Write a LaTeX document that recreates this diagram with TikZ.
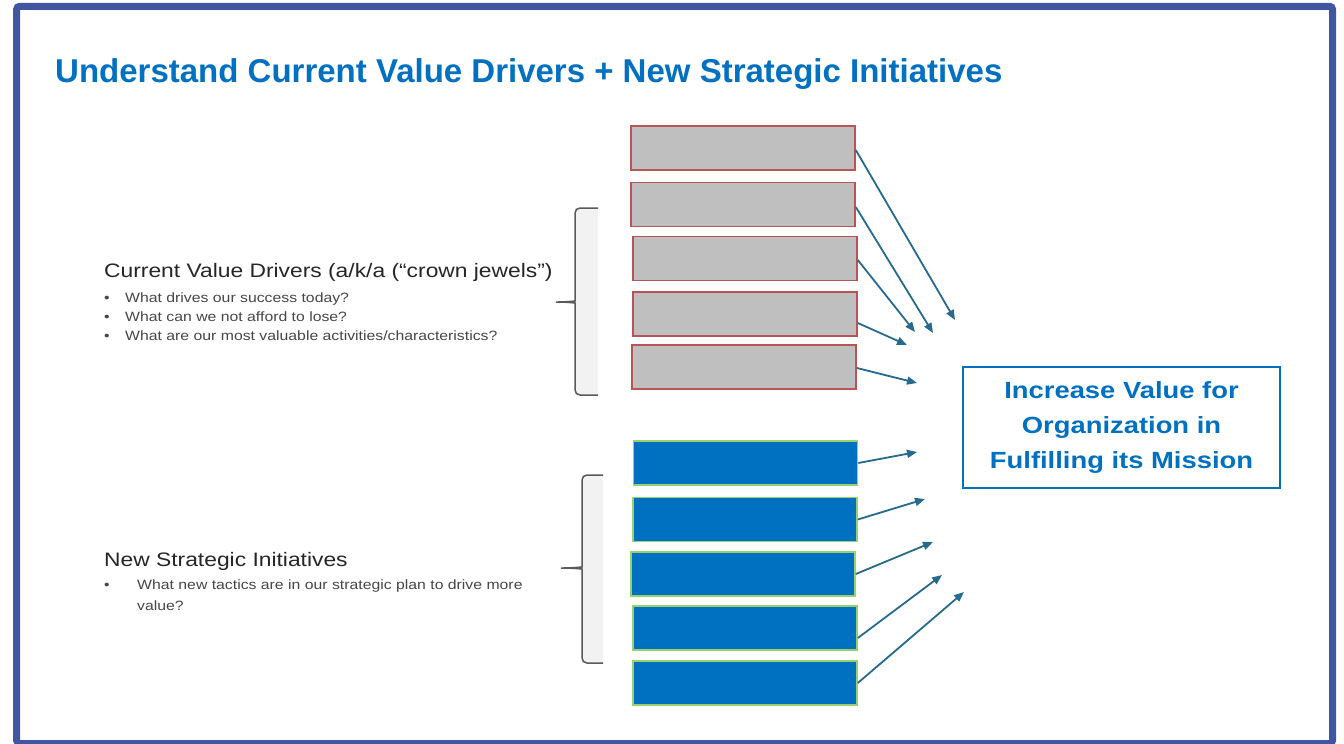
\documentclass[tikz,border=0pt]{standalone}
\usepackage{fontspec}
\setmainfont{Liberation Sans}
\newfontfamily\bodyfont[FakeStretch=1.17]{Liberation Sans}
\usetikzlibrary{arrows.meta,calc}
\definecolor{frameblue}{RGB}{64,86,161}
\definecolor{titleblue}{RGB}{0,112,192}
\definecolor{boxgray}{RGB}{191,191,191}
\definecolor{boxred}{RGB}{184,84,84}
\definecolor{boxblue}{RGB}{0,112,192}
\definecolor{boxgreen}{RGB}{150,210,110}
\definecolor{arrowcol}{RGB}{38,106,142}
\definecolor{headcol}{RGB}{38,38,38}
\definecolor{bulcol}{RGB}{70,70,70}
\definecolor{bracecol}{RGB}{90,90,90}
\definecolor{bracefill}{RGB}{242,242,242}
\begin{document}
\begin{tikzpicture}[x=1pt,y=-1pt,
  graybox/.style={draw=boxred, line width=1.6pt, fill=boxgray, minimum width=224pt, minimum height=44pt, inner sep=0pt},
  bluebox/.style={draw=boxgreen, line width=1.6pt, fill=boxblue, minimum width=224pt, minimum height=44pt, inner sep=0pt},
  conn/.style={draw=arrowcol, line width=1.8pt, -{Triangle[length=10pt,width=8pt]}},
  headtext/.style={font=\bodyfont\fontsize{19.5}{23}\selectfont, text=headcol, inner sep=0pt, anchor=base west},
  bultext/.style={font=\bodyfont\fontsize{13.5}{16}\selectfont, text=bulcol, inner sep=0pt, anchor=base west},
  brace/.style={draw=bracecol, line width=1.5pt, rounded corners=5pt},
  goalbox/.style={draw=titleblue, line width=2.5pt, minimum width=317pt, minimum height=121pt, inner sep=0pt, align=center, text=titleblue, font=\bodyfont\bfseries\fontsize{23.4}{35}\selectfont}
]
\useasboundingbox (0,0) rectangle (1344,744);
\fill[white] (0,0) rectangle (1344,744);
% frame
\draw[frameblue, line width=7pt, rounded corners=3pt] (16.7,6.3) rectangle (1332.5,743.5);

% title
\node[anchor=base west, inner sep=0pt, text=titleblue, font=\bfseries\fontsize{33}{40}\selectfont] (title) at (55,82) {Understand Current Value Drivers + New Strategic Initiatives};

% left texts
\node[headtext] (cvd) at (104,277) {Current Value Drivers (a/k/a (“crown jewels”)};
\node[bultext] (cvd1) at (104,302) {\makebox[21pt][l]{•}What drives our success today?};
\node[bultext] (cvd2) at (104,321) {\makebox[21pt][l]{•}What can we not afford to lose?};
\node[bultext] (cvd3) at (104,340) {\makebox[21pt][l]{•}What are our most valuable activities/characteristics?};

\node[headtext] (nsi) at (104,566) {New Strategic Initiatives};
\node[bultext] (nsi1) at (104,589) {\makebox[33pt][l]{•}What new tactics are in our strategic plan to drive more};
\node[bultext] (nsi2) at (137,610) {value?};

% braces
\fill[bracefill] (575,208) rectangle (598,395);
\draw[brace] (598,208) -- (575,208) -- (575,296) .. controls (575,301) and (566,302) .. (553,302) .. controls (566,302) and (575,303) .. (575,308) -- (575,395) -- (598,395);
\fill[bracefill] (582,475) rectangle (603,663);
\draw[brace] (603,475) -- (582,475) -- (582,562) .. controls (582,567) and (572,568) .. (558,568) .. controls (572,568) and (582,569) .. (582,574) -- (582,663) -- (603,663);

% gray boxes
\node[graybox] (g1) at (743,148) {};
\node[graybox] (g2) at (743,204.5) {};
\node[graybox] (g3) at (745,258.5) {};
\node[graybox] (g4) at (745,314) {};
\node[graybox] (g5) at (744,367) {};
% blue boxes
\node[bluebox] (b1) at (745.5,463) {};
\node[bluebox] (b2) at (745,519.5) {};
\node[bluebox] (b3) at (743,574) {};
\node[bluebox] (b4) at (745,628) {};
\node[bluebox] (b5) at (745,683) {};

% goal box
\node[goalbox] (goal) at (1121.5,427.5) {Increase Value for\\Organization in\\Fulfilling its Mission};

% arrow free ends
\coordinate (e1) at (955,320);
\coordinate (e2) at (933,333);
\coordinate (e3) at (915,332);
\coordinate (e4) at (907,345);
\coordinate (e5) at (917,383);
\coordinate (f1) at (917,452);
\coordinate (f2) at (925,499);
\coordinate (f3) at (933,542);
\coordinate (f4) at (942,575);
\coordinate (f5) at (964,592);

\draw[conn] ([yshift=-2pt]g1.east) -- (e1);
\draw[conn] ([yshift=-2.5pt]g2.east) -- (e2);
\draw[conn] ([yshift=-1.5pt]g3.east) -- (e3);
\draw[conn] ([yshift=-9pt]g4.east) -- (e4);
\draw[conn] ([yshift=-1pt]g5.east) -- (e5);
\draw[conn] (b1.east) -- (f1);
\draw[conn] (b2.east) -- (f2);
\draw[conn] (b3.east) -- (f3);
\draw[conn] ([yshift=-10pt]b4.east) -- (f4);
\draw[conn] (b5.east) -- (f5);
\end{tikzpicture}
\end{document}
